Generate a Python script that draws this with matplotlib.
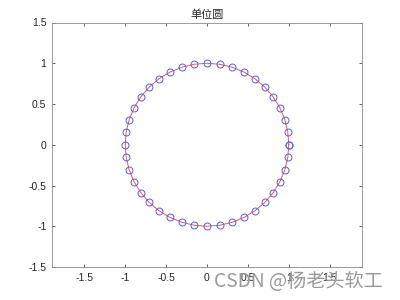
import numpy as np
import matplotlib
matplotlib.use("Agg")
import matplotlib.pyplot as plt

plt.rcParams['font.family'] = ['Liberation Sans', 'Noto Sans CJK SC', 'DejaVu Sans']

# sample angles (degrees) of the points on the unit circle
angles_deg = [0, 9, 18, 27, 36, 45, 54, 63, 72, 81, 90, 99, 108, 117, 126, 135,
              144, 153, 162, 171, 180, 189, 198, 207, 216, 225, 234, 243, 252,
              261, 270, 279, 288, 297, 306, 315, 324, 333, 342, 351, 360]
radius = 1.0
title = '单位圆'
xticks = [-1.5, -1, -0.5, 0, 0.5, 1, 1.5]
yticks = [-1.5, -1, -0.5, 0, 0.5, 1, 1.5]
xtick_labels = ['-1.5', '-1', '-0.5', '0', '0.5', '1', '1.5']
ytick_labels = ['-1.5', '-1', '-0.5', '0', '0.5', '1', '1.5']

t = np.deg2rad(angles_deg)
x = radius * np.cos(t)
y = radius * np.sin(t)

fig = plt.figure(figsize=(4, 3), dpi=100)
ax = fig.add_axes([0.13, 0.11, 0.775, 0.815])

ax.plot(x, y, color='#e05a5a', linewidth=0.7)
ax.plot(x, y, 'o', markerfacecolor='none', markeredgecolor='#5a5ae6',
        markersize=5, markeredgewidth=0.7)

ax.set_xlim(-1.895, 1.895)
ax.set_ylim(-1.5, 1.5)
ax.set_xticks(xticks)
ax.set_xticklabels(xtick_labels)
ax.set_yticks(yticks)
ax.set_yticklabels(ytick_labels)
ax.tick_params(direction='in', length=2.5, width=0.5, labelsize=7.5,
               colors='#262626', top=True, right=True, pad=4)
for spine in ax.spines.values():
    spine.set_linewidth(0.6)
    spine.set_color('#8c8c8c')

ax.set_title(title, fontsize=8, color='#262626', pad=3,
             family=['Noto Sans CJK SC', 'DejaVu Sans'])

fig.text(0.535, 0.062, 'CSDN @杨老头软工', fontsize=13.8, color='#9a9a9a',
         ha='left', va='center', family=['Noto Sans CJK SC', 'DejaVu Sans'])

fig.savefig('out.png', dpi=100)
